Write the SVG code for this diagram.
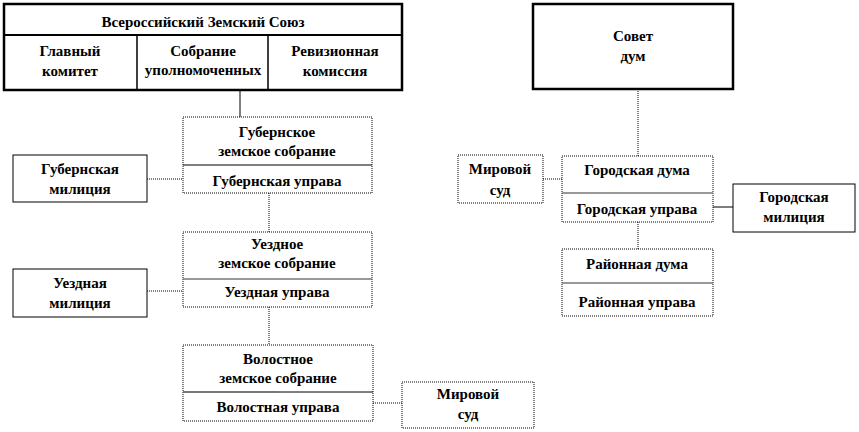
<svg xmlns="http://www.w3.org/2000/svg" width="859" height="432" viewBox="0 0 859 432">
<style>
svg #diagram text{font-family:'Liberation Serif','Times New Roman',serif !important;font-weight:bold;font-size:15px;fill:#000;text-anchor:middle}
.thick{fill:#fff;stroke:#000;stroke-width:2.5}
.dot{fill:#fff;stroke:#000;stroke-width:1;stroke-dasharray:1 1}
.sol{fill:#fff;stroke:#000;stroke-width:1}
.div{stroke:#000;stroke-width:1}
.gdiv{stroke:#777;stroke-width:1.5}
.c{stroke:#000;stroke-width:1;fill:none}
.cd{stroke:#000;stroke-width:1;fill:none;stroke-dasharray:1 1}
</style>
<rect width="859" height="432" fill="#fff"/>
<g id="connectors">
<line class="c" x1="240" y1="90" x2="240" y2="117"/>
<line class="cd" x1="269" y1="193" x2="269" y2="232"/>
<line class="cd" x1="269" y1="307" x2="269" y2="345"/>
<line class="cd" x1="147" y1="179" x2="183" y2="179"/>
<line class="cd" x1="147" y1="291" x2="183" y2="291"/>
<line class="cd" x1="373" y1="403" x2="402" y2="403"/>
<line class="cd" x1="638" y1="89" x2="638" y2="156"/>
<line class="cd" x1="543" y1="179" x2="562" y2="179"/>
<line class="c" x1="713" y1="207" x2="733" y2="207"/>
<line class="cd" x1="638" y1="222" x2="638" y2="249"/>
</g>
<g id="diagram" font-family="Liberation Serif" style="font-family:'Liberation Serif',serif">
<g id="vzs">
<rect class="thick" x="4" y="4" width="398" height="86"/>
<line x1="4" y1="35" x2="402" y2="35" stroke="#000" stroke-width="2"/>
<line x1="137" y1="35" x2="137" y2="90" stroke="#000" stroke-width="1.5"/>
<line x1="268" y1="35" x2="268" y2="90" stroke="#000" stroke-width="1.5"/>
<text x="203" y="27" font-family="Liberation Serif">Всероссийский Земский Союз</text>
<text x="70" y="56" font-family="Liberation Serif">Главный</text>
<text x="70" y="76" font-family="Liberation Serif">комитет</text>
<text x="203" y="56" font-family="Liberation Serif">Собрание</text>
<text x="203" y="75" font-family="Liberation Serif">уполномоченных</text>
<text x="335" y="56" font-family="Liberation Serif">Ревизионная</text>
<text x="335" y="76" font-family="Liberation Serif">комиссия</text>
</g>
<g id="gub">
<rect class="dot" x="183" y="117" width="189" height="76"/>
<line class="div" x1="183" y1="165" x2="372" y2="165"/>
<text x="277" y="137" font-family="Liberation Serif">Губернское</text>
<text x="277" y="156" font-family="Liberation Serif">земское собрание</text>
<text x="277" y="186" font-family="Liberation Serif">Губернская управа</text>
</g>
<g id="gub-mil">
<rect class="sol" x="13" y="155" width="134" height="47"/>
<text x="80" y="174" font-family="Liberation Serif">Губернская</text>
<text x="80" y="194" font-family="Liberation Serif">милиция</text>
</g>
<g id="uezd">
<rect class="dot" x="183" y="232" width="189" height="75"/>
<line class="gdiv" x1="183" y1="279" x2="372" y2="279"/>
<text x="277" y="249" font-family="Liberation Serif">Уездное</text>
<text x="277" y="268" font-family="Liberation Serif">земское собрание</text>
<text x="277" y="297" font-family="Liberation Serif">Уездная управа</text>
</g>
<g id="uezd-mil">
<rect class="sol" x="13" y="269" width="134" height="48"/>
<text x="80" y="288" font-family="Liberation Serif">Уездная</text>
<text x="80" y="308" font-family="Liberation Serif">милиция</text>
</g>
<g id="vol">
<rect class="dot" x="183" y="345" width="190" height="76"/>
<line class="div" x1="183" y1="392" x2="373" y2="392"/>
<line class="gdiv" x1="183" y1="392" x2="278" y2="392"/>
<text x="278" y="364" font-family="Liberation Serif">Волостное</text>
<text x="278" y="383" font-family="Liberation Serif">земское собрание</text>
<text x="278" y="412" font-family="Liberation Serif">Волостная управа</text>
</g>
<g id="vol-sud">
<rect class="dot" x="402" y="382" width="132" height="46"/>
<text x="468" y="399" font-family="Liberation Serif">Мировой</text>
<text x="468" y="419" font-family="Liberation Serif">суд</text>
</g>
<g id="sovet">
<rect class="thick" x="533" y="4" width="200" height="85"/>
<text x="633" y="41" font-family="Liberation Serif">Совет</text>
<text x="633" y="61" font-family="Liberation Serif">дум</text>
</g>
<g id="gor-sud">
<rect class="dot" x="458" y="155" width="85" height="48"/>
<text x="500" y="174" font-family="Liberation Serif">Мировой</text>
<text x="500" y="195" font-family="Liberation Serif">суд</text>
</g>
<g id="gor">
<rect class="dot" x="562" y="156" width="151" height="66"/>
<line class="gdiv" x1="562" y1="193" x2="713" y2="193"/>
<text x="637" y="175" font-family="Liberation Serif">Городская дума</text>
<text x="637" y="214" font-family="Liberation Serif">Городская управа</text>
</g>
<g id="gor-mil">
<rect class="sol" x="733" y="184" width="122" height="48"/>
<text x="794" y="202" font-family="Liberation Serif">Городская</text>
<text x="794" y="222" font-family="Liberation Serif">милиция</text>
</g>
<g id="rayon">
<rect class="dot" x="562" y="249" width="151" height="67"/>
<line class="gdiv" x1="562" y1="283" x2="713" y2="283"/>
<text x="637" y="269" font-family="Liberation Serif">Районная дума</text>
<text x="637" y="307" font-family="Liberation Serif">Районная управа</text>
</g>
</g>
</svg>
